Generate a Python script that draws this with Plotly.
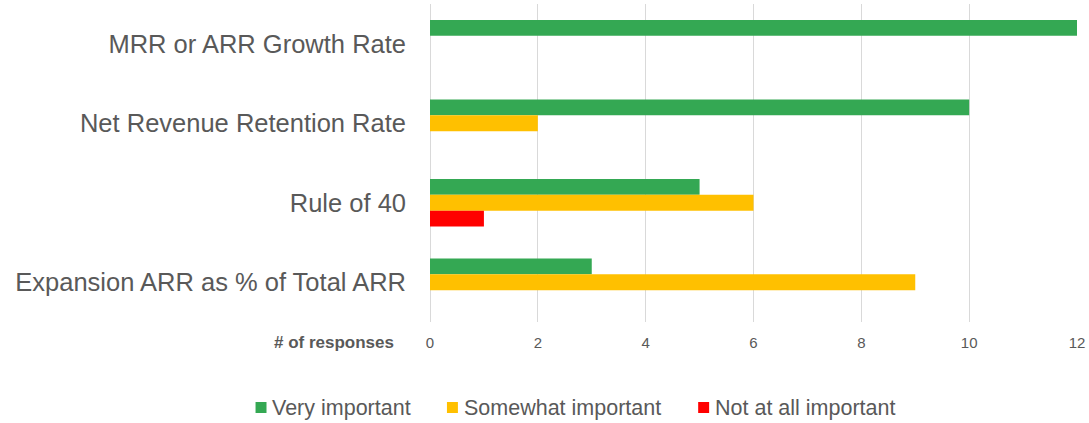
import plotly.graph_objects as go

# Survey: importance of each growth metric
metrics = [
    "MRR or ARR Growth Rate",
    "Net Revenue Retention Rate",
    "Rule of 40",
    "Expansion ARR as % of Total ARR",
]
very_important = [12, 10, 5, 3]
somewhat_important = [0, 2, 6, 9]
not_important = [0, 0, 1, 0]

series_names = ["Very important", "Somewhat important", "Not at all important"]
series_colors = ["#34A853", "#FFC000", "#FF0000"]
x_ticks = [0, 2, 4, 6, 8, 10, 12]

FONT = "Liberation Sans"
TEXT_GREY = "#595959"

W, H = 1089, 423
M_L, M_R, M_T, M_B = 430, 10, 4, 101
PLOT_W = W - M_L - M_R
PLOT_H = H - M_T - M_B


def paper_x(px):
    """Pixel column -> paper x coordinate."""
    return (px - M_L) / PLOT_W


def paper_y(py):
    """Pixel row -> paper y coordinate."""
    return (H - M_B - py) / PLOT_H


fig = go.Figure()
for name, vals, color in zip(series_names,
                             [very_important, somewhat_important, not_important],
                             series_colors):
    fig.add_trace(go.Bar(
        y=metrics, x=vals, name=name, orientation="h",
        marker=dict(color=color, line=dict(width=0)),
        showlegend=False,
    ))

fig.update_layout(
    width=W, height=H,
    margin=dict(l=M_L, r=M_R, t=M_T, b=M_B),
    paper_bgcolor="white", plot_bgcolor="white",
    barmode="group", bargap=0.4, bargroupgap=0,
    font=dict(family=FONT, color=TEXT_GREY),
    showlegend=False,
)

fig.update_xaxes(
    range=[0, 12], tickvals=x_ticks, ticktext=[str(v) for v in x_ticks],
    showgrid=True, gridcolor="#D9D9D9", gridwidth=1,
    zeroline=True, zerolinecolor="#D9D9D9", zerolinewidth=1,
    showline=False, ticks="", ticklabelstandoff=10,
    tickfont=dict(size=15, color=TEXT_GREY, family=FONT),
    fixedrange=True,
)
fig.update_yaxes(
    categoryorder="array", categoryarray=metrics, autorange="reversed",
    showgrid=False, zeroline=False, showline=False, ticks="",
    ticklabelstandoff=23,
    tickfont=dict(size=25.5, color=TEXT_GREY, family=FONT),
    fixedrange=True,
)

# axis caption beside the tick labels
fig.add_annotation(
    text="# of responses", xref="paper", yref="paper",
    x=paper_x(396), y=paper_y(342), xanchor="right", yanchor="middle",
    showarrow=False,
    font=dict(size=17, color=TEXT_GREY, family=FONT, weight="bold"),
)

# legend row: small square swatch followed by the series name
legend_swatch_left = [255, 447, 699]
legend_y = 407.5
swatch = 11
for name, color, left in zip(series_names, series_colors, legend_swatch_left):
    fig.add_shape(
        type="rect", xref="paper", yref="paper",
        x0=paper_x(left), x1=paper_x(left + swatch),
        y0=paper_y(legend_y - swatch / 2), y1=paper_y(legend_y + swatch / 2),
        fillcolor=color, line=dict(width=0), layer="above",
    )
    fig.add_annotation(
        text=name, xref="paper", yref="paper",
        x=paper_x(left + swatch + 4), y=paper_y(legend_y),
        xanchor="left", yanchor="middle", showarrow=False,
        font=dict(size=21.5, color=TEXT_GREY, family=FONT),
    )

fig.write_html("out.html")
